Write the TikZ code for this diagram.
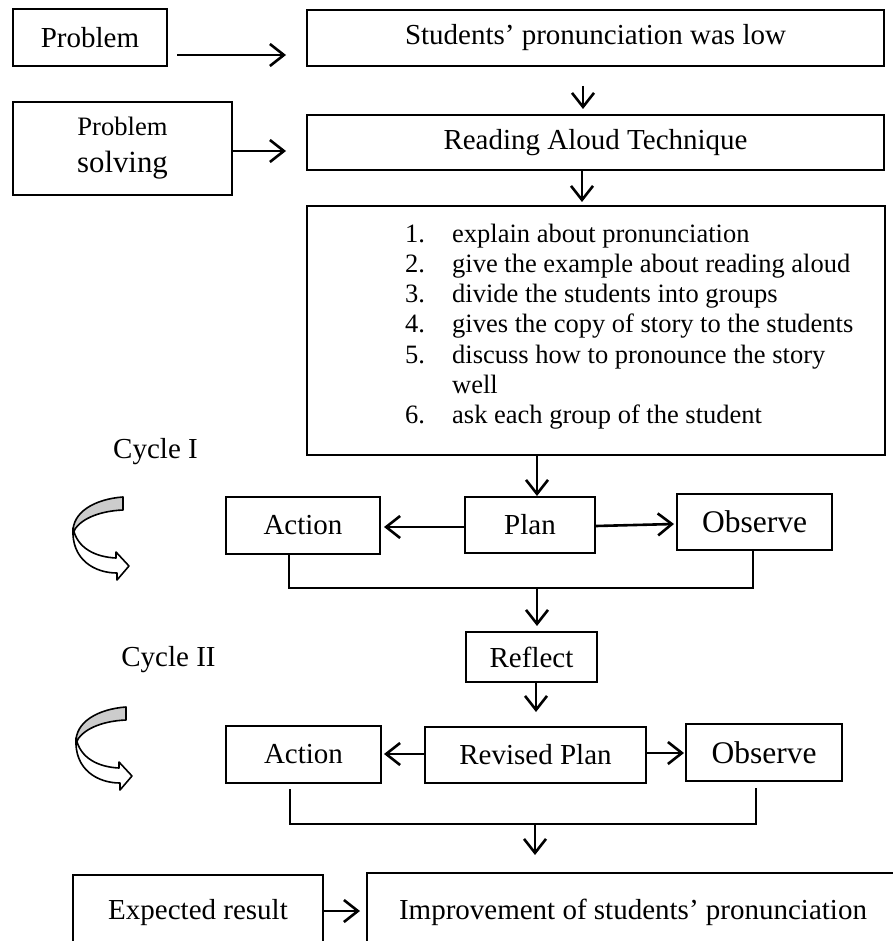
\documentclass[tikz,border=0pt]{standalone}
\usepackage{fontspec}
\setmainfont{Liberation Serif}
\usetikzlibrary{arrows.meta,calc}
\begin{document}
\begin{tikzpicture}[x=1pt,y=-1pt,
  box/.style={draw, line width=2pt, inner sep=0pt, font=\fontsize{29}{33}\selectfont},
  big/.style={font=\fontsize{31.5}{35}\selectfont},
  arr/.style={line width=2.6pt, -{Straight Barb[length=14pt,width=22pt]}},
  brk/.style={line width=2.8pt},
  ribbon/.style={line width=1.6pt, line join=round},
  lbl/.style={inner sep=0pt, font=\fontsize{29}{33}\selectfont}]
\fill[white] (0,0) rectangle (892,941);
\useasboundingbox (0,0) rectangle (892,941);

% boxes
\node[box, minimum width=154, minimum height=57] (prob) at (90,37.5) {Problem};
\node[box, minimum width=577, minimum height=56] (low) at (595.5,38) {Students’ pronunciation was low};
\node[box, minimum width=219, minimum height=93, align=center, font=\fontsize{30.8}{37}\selectfont] (ps) at (122.5,148.5)
  {{\fontsize{26.6}{37}\selectfont Problem}\\solving};
\node[box, minimum width=577, minimum height=55] (rat) at (595.5,142.5) {Reading Aloud Technique};
\node[box, minimum width=578, minimum height=249] (steps) at (596,330.5) {};
\node[anchor=base west, inner sep=0pt, font=\fontsize{26.5}{30.3}\selectfont] (stepstext) at (405,242)
  {\begin{tabular}[t]{@{}p{47pt}@{}l@{}}
   1. & explain about pronunciation\\
   2. & give the example about reading aloud\\
   3. & divide the students into groups\\
   4. & gives the copy of story to the students\\
   5. & discuss how to pronounce the story\\
      & well\\
   6. & ask each group of the student
   \end{tabular}};

\node[lbl] (cyc1) at (155.5,452) {Cycle I};
\node[lbl] (cyc2) at (168.5,660) {Cycle II};

\node[box, minimum width=154, minimum height=57] (act1) at (303,525.5) {Action};
\node[box, minimum width=130, minimum height=56] (plan1) at (530,525) {Plan};
\node[box, big, minimum width=155, minimum height=56] (obs1) at (754.5,522) {Observe};
\node[box, minimum width=131, minimum height=50] (refl) at (531.5,657) {Reflect};
\node[box, minimum width=155, minimum height=57] (act2) at (303.5,754.5) {Action};
\node[box, minimum width=221, minimum height=56] (plan2) at (535.5,755) {Revised Plan};
\node[box, big, minimum width=156, minimum height=57] (obs2) at (764,752.5) {Observe};
\node[box, minimum width=250, minimum height=76] (exp) at (198,913) {Expected result};
\node[box, minimum width=532, minimum height=78] (imp) at (633,912) {Improvement of students’ pronunciation};

\coordinate (j1) at (537,588);
\coordinate (j2) at (535,824);
\coordinate (t2) at (535,855);

% connectors
\draw[arr] ($(prob.east)+(9,17.5)$) -- ($(low.west)+(-20,17)$);
\draw[arr] ($(ps.east)+(0,2.5)$) -- ($(rat.west)+(-20,8.5)$);
\draw[arr] ($(low.south)+(-12.5,19)$) -- ($(rat.north)+(-12.5,-5)$);
\draw[arr] ($(rat.south)+(-13.5,0)$) -- ($(steps.north)+(-14,-3)$);
\draw[arr] ($(steps.south)+(-59,0)$) -- ($(plan1.north)+(7,0)$);
\draw[arr] ($(plan1.west)+(0,2)$) -- ($(act1.east)+(3,1.5)$);
\draw[arr] ($(plan1.east)+(0,1)$) -- ($(obs1.west)+(-2,2)$);
\draw[brk] ($(act1.south)+(-14,0)$) |- (j1) -| ($(obs1.south)+(-1.5,0)$);
\draw[arr] (j1) -- ($(refl.north)+(5.5,-5)$);
\draw[arr] ($(refl.south)+(4.5,0)$) -- ($(plan2.north)+(0.5,-14)$);
\draw[arr] ($(plan2.west)+(0,-1)$) -- ($(act2.east)+(2,-0.5)$);
\draw[arr] ($(plan2.east)+(0,-2)$) -- ($(obs2.west)+(-1,0.5)$);
\draw[brk] ($(act2.south)+(-13.5,5)$) |- (j2) -| ($(obs2.south)+(-8,6)$);
\draw[arr] (j2) -- (t2);
\draw[arr] ($(exp.east)+(0,-2)$) -- ($(imp.west)+(-6,-1)$);

% curved cycle arrows
\foreach \dx/\dy in {0/0, 3/210}{
  \begin{scope}[shift={(\dx,\dy)}]
    \filldraw[ribbon, fill=gray!40] (123,497) .. controls (95,499) and (72,512) .. (73,533)
      .. controls (78,520) and (98,511) .. (123,510) -- cycle;
    \filldraw[ribbon, fill=white] (73,528) .. controls (71,560) and (95,573) .. (117,573)
      -- (117,580) -- (129,566) -- (116,552) -- (116,558)
      .. controls (95,557) and (77,548) .. (73,528) -- cycle;
  \end{scope}
}
\end{tikzpicture}
\end{document}
